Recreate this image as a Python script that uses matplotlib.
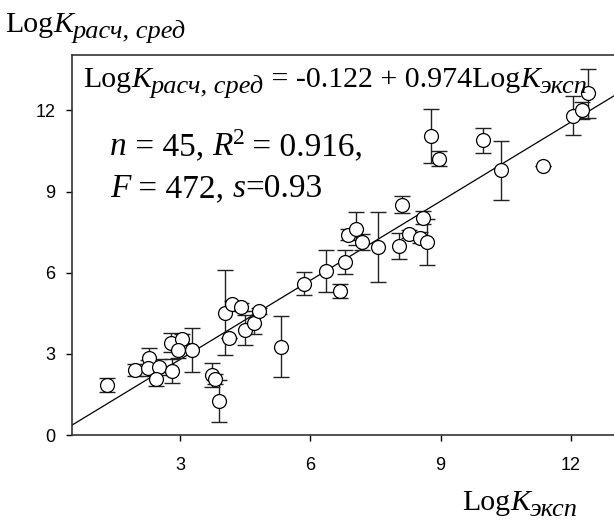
import matplotlib
matplotlib.use("Agg")
import matplotlib.pyplot as plt
from matplotlib.transforms import IdentityTransform
import numpy as np

log_k_exp = [1.31, 1.96, 2.28, 2.26, 2.51, 2.44, 2.81, 2.79, 3.04, 2.95,
             3.27, 3.73, 3.80, 3.89, 4.03, 4.19, 4.40, 4.12, 4.49, 4.70,
             4.82, 5.32, 5.85, 6.36, 6.68, 6.80, 6.87, 7.05, 7.19, 7.56,
             8.04, 8.11, 8.27, 8.53, 8.59, 8.69, 8.78, 8.96, 9.98, 10.39,
             11.36, 12.05, 12.26, 12.40]
log_k_calc = [1.85, 2.41, 2.85, 2.48, 2.52, 2.07, 2.37, 3.41, 3.56, 3.15,
              3.15, 2.22, 2.07, 1.26, 4.52, 4.85, 4.74, 3.59, 3.89, 4.15,
              4.59, 3.26, 5.59, 6.07, 5.33, 6.41, 7.41, 7.63, 7.15, 6.96,
              7.00, 8.52, 7.44, 7.30, 8.04, 7.15, 11.04, 10.22, 10.89, 9.78,
              9.93, 11.81, 12.00, 12.63]
log_k_err = [0.25, 0.22, 0.37, 0.30, 0.30, 0.25, 0.45, 0.35, 0.17, 0.30,
             0.82, 0.45, 0.20, 0.77, 1.57, 0.10, 0.15, 0.0, 0.56, 0.42,
             0.10, 1.13, 0.42, 0.78, 0.26, 0.44, 0.20, 0.60, 0.30, 1.30,
             0.48, 0.30, 0.15, 0.20, 0.25, 0.85, 1.00, 0.28, 0.46, 1.10,
             0.0, 0.72, 0.30, 0.90]

# регрессия
b0, b1 = -0.122, 0.974
x_ticks = [3, 6, 9, 12]
y_ticks = [0, 3, 6, 9, 12]

W, H = 614, 526
fig = plt.figure(figsize=(W / 100, H / 100), dpi=100)
ax = fig.add_axes([72 / W, (H - 435) / H, 542 / W, 380 / H])

ax.errorbar(log_k_exp, log_k_calc, yerr=log_k_err, fmt='none',
            ecolor='#222222', elinewidth=1.0, capsize=5.5, capthick=1.0, zorder=2)
ax.plot(log_k_exp, log_k_calc, 'o', ms=10, mfc='white', mec='black', mew=0.9, zorder=3)

xl = np.array([0.5, 13.0])
ax.plot(xl, b0 + b1 * xl, color='black', lw=0.9, zorder=1)

ax.set_xlim(0.5, 13.0)
ax.set_ylim(0, 14.05)
ax.set_xticks(x_ticks)
ax.set_yticks(y_ticks)
ax.tick_params(direction='out', length=4, width=1, labelsize=13, pad=8)
ax.tick_params(axis='x', pad=12)
for lab in ax.get_xticklabels() + ax.get_yticklabels():
    lab.set_family('Liberation Sans')
ax.spines['right'].set_visible(False)
for s in ['left', 'top', 'bottom']:
    ax.spines[s].set_color('#333333')
    ax.spines[s].set_linewidth(1.2)

r = fig.canvas.get_renderer()


# текст из кусков разного размера/начертания (пиксели от верхнего левого угла, dy - сдвиг вниз)
def rich(pieces, x, y):
    for s, size, style, dy in pieces:
        t = fig.text(x, H - y - dy, s, fontsize=size, fontstyle=style,
                     family='Liberation Serif', transform=IdentityTransform(),
                     va='baseline', ha='left')
        x += t.get_window_extent(r).width


BIG, SUB = 21.5, 19
STAT = 24
rich([("Log", BIG, 'normal', 0), ("K", BIG, 'italic', 0),
      ("расч, сред", SUB, 'italic', 6)], 5, 32)
rich([("Log", BIG, 'normal', 0), ("K", BIG, 'italic', 0),
      ("расч, сред", SUB, 'italic', 6), (" = -0.122 + 0.974Log", BIG, 'normal', 0),
      ("K", BIG, 'italic', 0), ("эксп", SUB, 'italic', 6)], 83, 87)
rich([("n", STAT, 'italic', 0), (" = 45, ", STAT, 'normal', 0), ("R", STAT, 'italic', 0),
      ("2", 17, 'normal', -11), (" = 0.916,", STAT, 'normal', 0)], 110, 155)
rich([("F", STAT, 'italic', 0), (" = 472, ", STAT, 'normal', 0), ("s", STAT, 'italic', 0),
      ("=0.93", STAT, 'normal', 0)], 110, 197)
rich([("Log", BIG, 'normal', 0), ("K", BIG, 'italic', 0),
      ("эксп", SUB, 'italic', 6)], 462, 510)

fig.savefig("out.png", dpi=100)
